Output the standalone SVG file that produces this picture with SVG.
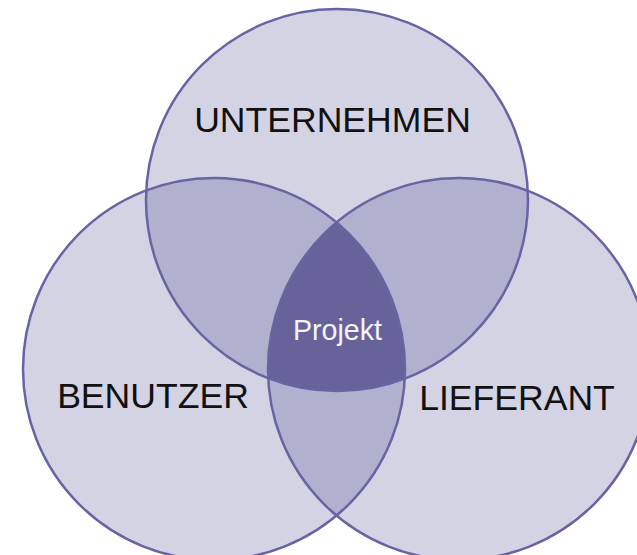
<svg xmlns="http://www.w3.org/2000/svg" width="637" height="555" viewBox="0 0 637 555">
  <defs>
    <style>
      .base { fill: #d4d3e4; }
      .two { fill: #b2b0cf; }
      .three { fill: #67639a; }
      .ring { fill: none; stroke: #6764a3; stroke-width: 2.5; }
      .lbl { font-family: "Liberation Sans", Arial, sans-serif; font-size: 35.6px; fill: #111111; text-anchor: middle; }
      .center { font-family: "Liberation Sans", Arial, sans-serif; font-size: 28.6px; fill: #f4f4fa; text-anchor: middle; }
    </style>
    <clipPath id="clipTop"><circle cx="337" cy="200" r="191"/></clipPath>
    <clipPath id="clipLeft"><circle cx="214" cy="369" r="191"/></clipPath>
    <clipPath id="clipRight"><circle cx="459" cy="369" r="191"/></clipPath>
  </defs>
  <rect width="637" height="555" fill="#ffffff"/>
  <g id="unternehmen">
    <circle class="base" cx="337" cy="200" r="191"/>
  </g>
  <g id="benutzer">
    <circle class="base" cx="214" cy="369" r="191"/>
  </g>
  <g id="lieferant">
    <circle class="base" cx="459" cy="369" r="191"/>
  </g>
  <g id="overlaps">
    <g clip-path="url(#clipTop)"><circle class="two" cx="214" cy="369" r="191"/></g>
    <g clip-path="url(#clipTop)"><circle class="two" cx="459" cy="369" r="191"/></g>
    <g clip-path="url(#clipLeft)"><circle class="two" cx="459" cy="369" r="191"/></g>
    <g id="projekt" clip-path="url(#clipTop)"><g clip-path="url(#clipLeft)"><circle class="three" cx="459" cy="369" r="191"/></g></g>
  </g>
  <g id="outlines">
    <circle class="ring" cx="337" cy="200" r="191"/>
    <circle class="ring" cx="214" cy="369" r="191"/>
    <circle class="ring" cx="459" cy="369" r="191"/>
  </g>
  <g id="labels">
    <text class="lbl" x="332.5" y="132">UNTERNEHMEN</text>
    <text class="lbl" x="153" y="408">BENUTZER</text>
    <text class="lbl" x="517" y="410">LIEFERANT</text>
    <text class="center" x="337.5" y="340">Projekt</text>
  </g>
</svg>
